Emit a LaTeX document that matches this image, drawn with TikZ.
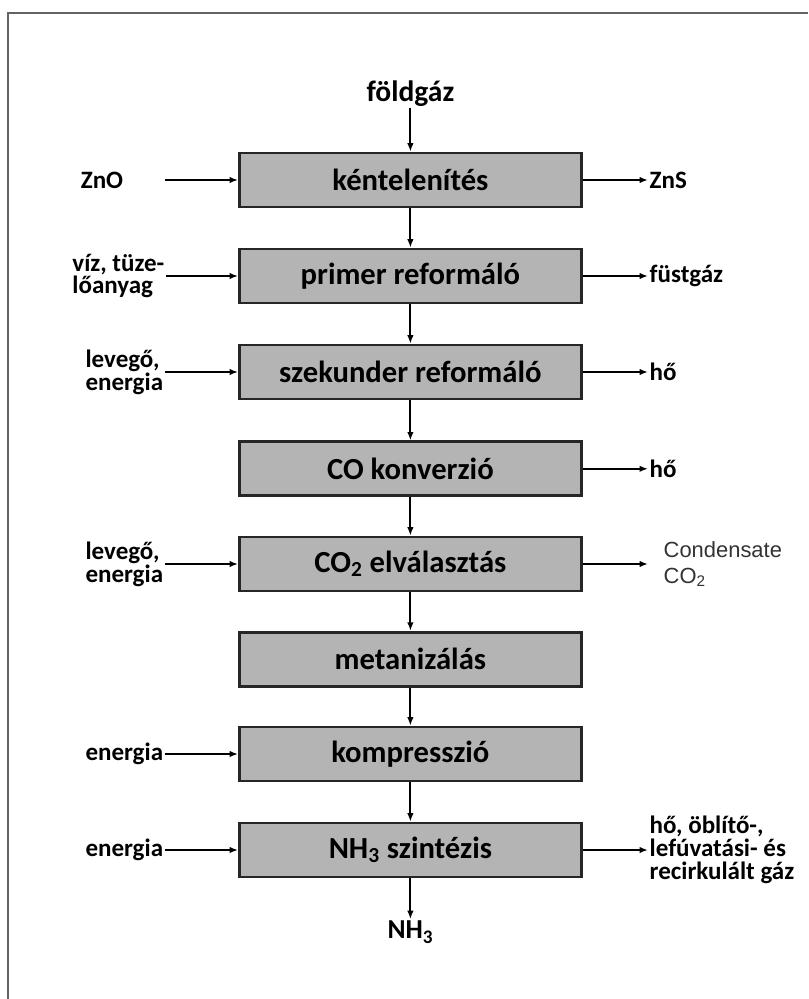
\documentclass[tikz,border=0pt]{standalone}
\usepackage{fontspec}
\setmainfont{Carlito}
\newfontfamily\condfont{Liberation Sans}
\usetikzlibrary{arrows.meta, calc}
\definecolor{boxgray}{RGB}{180,180,180}
\definecolor{framegray}{RGB}{100,100,100}

\begin{document}
\begin{tikzpicture}[
    stage/.style={draw=black!85, line width=1.9pt, fill=boxgray, minimum width=8.55cm, minimum height=1.35cm, font=\bfseries\fontsize{21.8}{25}\selectfont},
    side/.style={font=\bfseries\fontsize{17.8}{16.2}\selectfont, align=left, inner sep=1pt},
    flow/.style={-{Latex[length=6pt,width=4.6pt]}, line width=1.3pt},
]
\useasboundingbox (0,0) rectangle (20.2,-24.975);
\draw[framegray, line width=1.8pt] (0.2,-24.975) -- (0.2,-0.325) -- (20.2,-0.325);

% process chain
\node[stage] (desulf) at (10.26,-4.5)   {kéntelenítés};
\node[stage] (prim)   at (10.26,-6.9)   {primer reformáló};
\node[stage] (sec)    at (10.26,-9.3)   {szekunder reformáló};
\node[stage] (cokonv) at (10.26,-11.72) {CO konverzió};
\node[stage] (cosep)  at (10.26,-14.1)  {CO\textsubscript{2} elválasztás};
\node[stage] (meth)   at (10.26,-16.48) {metanizálás};
\node[stage] (comp)   at (10.26,-18.85) {kompresszió};
\node[stage] (synth)  at (10.26,-21.25) {NH\textsubscript{3} szintézis};

\node[side, font=\bfseries\fontsize{21}{24}\selectfont] (gas) at (10.26,-2.33) {földgáz};
\node[side, font=\bfseries\fontsize{19.5}{22}\selectfont] (prod) at (10.26,-23.3) {NH\textsubscript{3}};

% inputs
\node[side] (zno)    at (2.55,-4.5) {ZnO};
\node[side, anchor=east] (water)  at (4.15,-6.9)  {víz, tüze-\\lőanyag};
\node[side, anchor=east] (air1)   at (4.12,-9.3)  {levegő,\\energia};
\node[side, anchor=east] (air2)   at (4.12,-14.1) {levegő,\\energia};
\node[side, anchor=east] (en1)    at (4.12,-18.85) {energia};
\node[side, anchor=east] (en2)    at (4.12,-21.25) {energia};

% outputs
\node[side, anchor=west] (zns)  at (16.2,-4.5)  {ZnS};
\node[side, anchor=west] (flue) at (16.2,-6.9)  {füstgáz};
\node[side, anchor=west] (heat1) at (16.2,-9.3) {hő};
\node[side, anchor=west] (heat2) at (16.2,-11.72) {hő};
\node[side, anchor=west, font=\condfont\fontsize{15.6}{18.4}\selectfont, text=black!80, inner sep=1pt] (cond) at (16.55,-14.1) {Condensate\\CO\textsubscript{2}};
\node[side, anchor=west] (purge) at (16.2,-21.25) {hő, öblítő-,\\lefúvatási- és\\recirkulált gáz};

\draw[flow] (gas) -- (desulf);
\draw[flow] (desulf) -- (prim);
\draw[flow] (prim) -- (sec);
\draw[flow] (sec) -- (cokonv);
\draw[flow] (cokonv) -- (cosep);
\draw[flow] (cosep) -- (meth);
\draw[flow] (meth) -- (comp);
\draw[flow] (comp) -- (synth);
\draw[flow] (synth) -- (prod);

\draw[flow, shorten <=1cm] (zno.east) -- (desulf.west);
\draw[flow] (water.east |- prim.west) -- (prim.west);
\draw[flow] (air1.east |- sec.west) -- (sec.west);
\draw[flow] (air2.east |- cosep.west) -- (cosep.west);
\draw[flow] (en1.east |- comp.west) -- (comp.west);
\draw[flow] (en2.east |- synth.west) -- (synth.west);

\draw[flow] (desulf.east) -- (desulf.east -| zns.west);
\draw[flow] (prim.east) -- (prim.east -| flue.west);
\draw[flow] (sec.east) -- (sec.east -| heat1.west);
\draw[flow] (cokonv.east) -- (cokonv.east -| heat2.west);
\draw[flow, shorten >=0.35cm] (cosep.east) -- (cosep.east -| cond.west);
\draw[flow] (synth.east) -- (synth.east -| purge.west);
\end{tikzpicture}
\end{document}
